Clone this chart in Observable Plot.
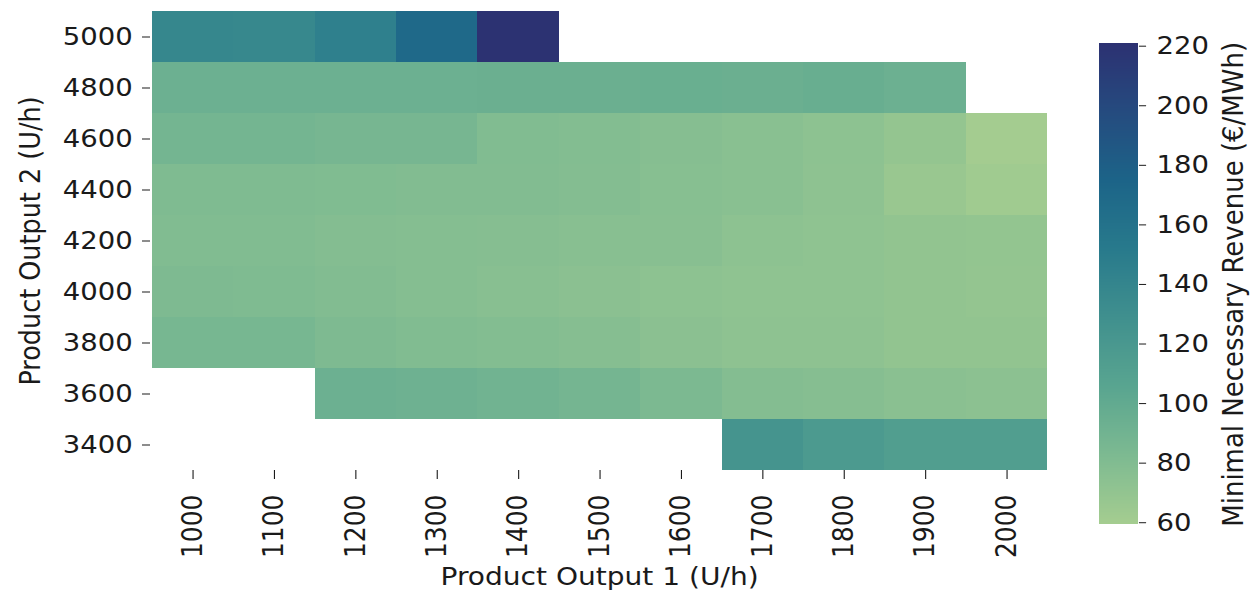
<!DOCTYPE html>
<html>
<head>
<meta charset="utf-8">
<script src="https://cdn.jsdelivr.net/npm/d3@7"></script>
<script src="https://cdn.jsdelivr.net/npm/@observablehq/plot@0.6"></script>
<style>
  html, body { margin: 0; padding: 0; background: #fff; overflow: hidden; }
  /* the reference figure is stretched horizontally by ~1.1 */
  #wrap { position: relative; width: 1137.3px; height: 592px; transform: scaleX(1.1); transform-origin: 0 0; }
  #wrap svg { position: absolute; top: 0; overflow: visible; }
</style>
</head>
<body>
<div id="wrap"></div>
<script>
// Categories
const xCats = [1000, 1100, 1200, 1300, 1400, 1500, 1600, 1700, 1800, 1900, 2000];
const yCats = [5000, 4800, 4600, 4400, 4200, 4000, 3800, 3600, 3400];

// Minimal necessary revenue (€/MWh) per row (y), by column (x); null = no value
const row5000 = [138, 137, 145, 169, 220, null, null, null, null, null, null];
const row4800 = [93, 93, 93, 93.5, 94, 94, 95, 94, 96, 93, null];
const row4600 = [88, 88, 86.5, 86.5, 80, 79, 77, 75.5, 73, 69, 60];
const row4400 = [81, 81, 80.5, 79.5, 79.5, 78.5, 76.5, 75.5, 72.5, 66, 62];
const row4200 = [80, 80, 78.5, 78, 77, 76, 76, 73, 72, 70, 69.5];
const row4000 = [82, 81, 79.5, 78, 76, 74.5, 73, 72, 72, 70, 69];
const row3800 = [86, 86, 82, 80, 79, 77, 74.5, 72.5, 72.5, 70, 70];
const row3600 = [null, null, 93.5, 92, 90, 87.5, 83, 78.5, 77, 75, 74];
const row3400 = [null, null, null, null, null, null, null, 124, 117.5, 113, 113];

const rows = [row5000, row4800, row4600, row4400, row4200, row4000, row3800, row3600, row3400];

// Colour bar
const colorDomain = [59.3, 220.8];
const colorTicks = [60, 80, 100, 120, 140, 160, 180, 200, 220];
const colorLabel = "Minimal Necessary Revenue (€/MWh)";
const crestStops = ["#a5cd90", "#7dba91", "#59a590", "#40908e", "#287a8c", "#1c6488", "#254b7f", "#2c3172"];

const cells = [];
rows.forEach((r, i) => r.forEach((v, j) => {
  if (v != null) cells.push({x: xCats[j], y: yCats[i], v});
}));

const crest = d3.piecewise(d3.interpolateRgb, crestStops);
const colorScale = {type: "linear", domain: colorDomain, interpolate: crest};
const font = "DejaVu Sans";
const ink = "#1a1a1a";

const main = Plot.plot({
  width: 975,
  height: 592,
  marginLeft: 136.4,
  marginRight: 22.3,
  marginTop: 11,
  marginBottom: 122,
  style: {fontFamily: font, fontSize: "25px", color: ink, background: "transparent"},
  x: {type: "band", domain: xCats, padding: 0},
  y: {type: "band", domain: yCats, padding: 0},
  color: colorScale,
  marks: [
    Plot.cell(cells, {x: "x", y: "y", fill: "v", inset: 0, shapeRendering: "crispEdges"}),
    Plot.axisX({
      tickRotate: -90, tickSize: 9, tickPadding: 15,
      tickFormat: d => `${d}`,
      label: null
    }),
    Plot.axisX({
      ticks: [], tickSize: 0,
      label: "Product Output 1 (U/h)", labelAnchor: "center", labelArrow: "none",
      labelOffset: 114, fontSize: 25.5
    }),
    Plot.axisY({
      tickSize: 7.3, tickPadding: 9,
      tickFormat: d => `${d}`,
      label: null
    }),
    Plot.axisY({
      ticks: [], tickSize: 0,
      label: "Product Output 2 (U/h)", labelAnchor: "center", labelArrow: "none",
      labelOffset: 119, fontSize: 25.5
    })
  ]
});
main.style.left = "0px";

const steps = d3.range(colorDomain[0], colorDomain[1], 0.25);
const bar = Plot.plot({
  width: 192,
  height: 592,
  marginLeft: 53,
  marginRight: 103.6,
  marginTop: 43.3,
  marginBottom: 67.7,
  style: {fontFamily: font, fontSize: "25px", color: ink, background: "transparent"},
  y: {type: "linear", domain: colorDomain},
  color: colorScale,
  marks: [
    Plot.rect(steps, {y1: d => d, y2: d => Math.min(d + 0.4, colorDomain[1]), fill: d => d + 0.125, shapeRendering: "crispEdges"}),
    Plot.axisY({
      anchor: "right", ticks: colorTicks, tickSize: 6.5, tickPadding: 10,
      tickFormat: d => `${d}`,
      label: null
    }),
    Plot.axisY({
      anchor: "right", ticks: [], tickSize: 0,
      label: colorLabel, labelAnchor: "center", labelArrow: "none",
      labelOffset: 95, fontSize: 26
    })
  ]
});
bar.style.left = "945.5px";

const wrap = document.getElementById("wrap");
wrap.appendChild(main);
wrap.appendChild(bar);
</script>
</body>
</html>
